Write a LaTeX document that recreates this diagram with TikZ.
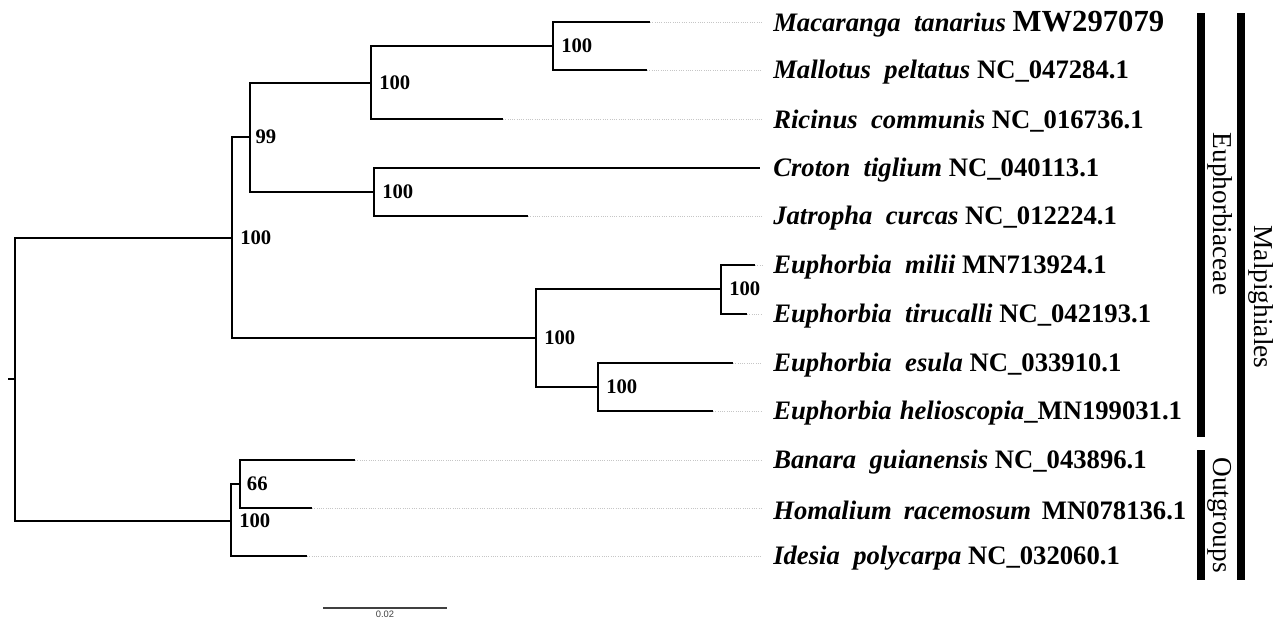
\documentclass[tikz,border=0pt]{standalone}
\usepackage{fontspec}
\setmainfont{Liberation Serif}
\newfontfamily\scalebarfont{Liberation Sans}
\usetikzlibrary{positioning}
\newcommand{\sptaxon}[3]{\textit{#1}\hspace{0.5em}\textit{#2} #3}

\begin{document}
\begin{tikzpicture}[x=0.75pt,y=-0.75pt,
  branch/.style={line width=1.8pt},
  guide/.style={gray!45, line width=0.7pt, densely dotted},
  taxon/.style={anchor=west, inner sep=0pt, yshift=-1.5pt, font=\fontsize{20}{22}\selectfont\bfseries},
  boot/.style={inner sep=0pt, font=\fontsize{15.5}{18}\selectfont\bfseries},
  cladebar/.style={line width=5.5pt},
  clade/.style={rotate=-90, inner sep=0pt, font=\fontsize{20.5}{24}\selectfont},
  scalebar/.style={line width=0.8pt, black!75}]
\useasboundingbox (0,0) rectangle (1283,622);
% tips
\coordinate (mac) at (650,22);
\coordinate (mal) at (647,70);
\coordinate (ric) at (503,119);
\coordinate (cro) at (760,168);
\coordinate (jat) at (528,216);
\coordinate (mil) at (755,265);
\coordinate (tir) at (747,314);
\coordinate (esu) at (733,363);
\coordinate (hel) at (713,411);
\coordinate (ban) at (355,460);
\coordinate (hom) at (312,508);
\coordinate (ide) at (307,556);
% internal nodes
\coordinate (n1) at (553,46);
\coordinate (n2) at (371,83);
\coordinate (n3) at (374,192);
\coordinate (n4) at (250,137);
\coordinate (n5) at (721,289);
\coordinate (n6) at (598,387);
\coordinate (n7) at (536,338);
\coordinate (n8) at (232,238);
\coordinate (n9) at (240,484);
\coordinate (n10) at (231,521);
\coordinate (root) at (15,379);
\coordinate (stub) at (8,379);

\node[taxon] (Lmac) at (773,22) {\sptaxon{Macaranga}{tanarius}{\fontsize{23}{24}\selectfont\bfseries MW297079}};
\node[taxon] (Lmal) at (773,70) {\sptaxon{Mallotus}{peltatus}{NC\_047284.1}};
\node[taxon] (Lric) at (773,119) {\sptaxon{Ricinus}{communis}{NC\_016736.1}};
\node[taxon] (Lcro) at (773,168) {\sptaxon{Croton}{tiglium}{NC\_040113.1}};
\node[taxon] (Ljat) at (773,216) {\sptaxon{Jatropha}{curcas}{NC\_012224.1}};
\node[taxon] (Lmil) at (773,265) {\sptaxon{Euphorbia}{milii}{MN713924.1}};
\node[taxon] (Ltir) at (773,314) {\sptaxon{Euphorbia}{tirucalli}{NC\_042193.1}};
\node[taxon] (Lesu) at (773,363) {\sptaxon{Euphorbia}{esula}{NC\_033910.1}};
\node[taxon] (Lhel) at (773,411) {\textit{Euphorbia}\hspace{0.3em}\textit{helioscopia}\_MN199031.1};
\node[taxon] (Lban) at (773,460) {\sptaxon{Banara}{guianensis}{NC\_043896.1}};
\node[taxon] (Lhom) at (773,508) {\textit{Homalium}\hspace{0.45em}\textit{racemosum}\hspace{0.4em}MN078136.1};
\node[taxon] (Lide) at (773,556) {\sptaxon{Idesia}{polycarpa}{NC\_032060.1}};

% branches
\draw[branch] (stub) -- (root);
\draw[branch] (root) |- (n8);
\draw[branch] (root) |- (n10);
\draw[branch] (n8) |- (n4);
\draw[branch] (n8) |- (n7);
\draw[branch] (n4) |- (n2);
\draw[branch] (n4) |- (n3);
\draw[branch] (n2) |- (n1);
\draw[branch] (n2) |- (ric);
\draw[branch] (n1) |- (mac);
\draw[branch] (n1) |- (mal);
\draw[branch] (n3) |- (cro);
\draw[branch] (n3) |- (jat);
\draw[branch] (n7) |- (n5);
\draw[branch] (n7) |- (n6);
\draw[branch] (n5) |- (mil);
\draw[branch] (n5) |- (tir);
\draw[branch] (n6) |- (esu);
\draw[branch] (n6) |- (hel);
\draw[branch] (n10) |- (n9);
\draw[branch] (n10) |- (ide);
\draw[branch] (n9) |- (ban);
\draw[branch] (n9) |- (hom);

% dotted guides to the labels
\draw[guide] (mac) -- ([xshift=-8pt]mac -| Lmac.west);
\draw[guide] (mal) -- ([xshift=-8pt]mal -| Lmal.west);
\draw[guide] (ric) -- ([xshift=-8pt]ric -| Lric.west);
\draw[guide] (jat) -- ([xshift=-8pt]jat -| Ljat.west);
\draw[guide] (mil) -- ([xshift=-8pt]mil -| Lmil.west);
\draw[guide] (tir) -- ([xshift=-8pt]tir -| Ltir.west);
\draw[guide] (esu) -- ([xshift=-8pt]esu -| Lesu.west);
\draw[guide] (hel) -- ([xshift=-8pt]hel -| Lhel.west);
\draw[guide] (ban) -- ([xshift=-8pt]ban -| Lban.west);
\draw[guide] (hom) -- ([xshift=-8pt]hom -| Lhom.west);
\draw[guide] (ide) -- ([xshift=-8pt]ide -| Lide.west);

% bootstrap values
\node[boot, right=6pt of n1] (b1) {100};
\node[boot, right=6pt of n2] (b2) {100};
\node[boot, right=6pt of n3] (b3) {100};
\node[boot, right=4pt of n4] (b4) {99};
\node[boot, right=6pt of n5] (b5) {100};
\node[boot, right=6pt of n6] (b6) {100};
\node[boot, right=6pt of n7] (b7) {100};
\node[boot, right=6pt of n8] (b8) {100};
\node[boot, right=5pt of n9] (b9) {66};
\node[boot, right=6pt of n10] (b10) {100};

% clade bars
\draw[cladebar] (1201,13) -- (1201,437);
\draw[cladebar] (1201,450) -- (1201,580);
\draw[cladebar] (1241,13) -- (1241,580);
\node[clade] (euph) at (1220,214) {Euphorbiaceae};
\node[clade] (outg) at (1220,515) {Outgroups};
\node[clade] (malp) at (1261,297) {Malpighiales};

% scale
\coordinate (s0) at (323,608);
\coordinate (s1) at (447,608);
\draw[scalebar] (s0) -- node[below=1.5pt, inner sep=0pt, font=\scalebarfont\fontsize{7}{8}\selectfont] (slabel) {0.02} (s1);
\end{tikzpicture}
\end{document}
